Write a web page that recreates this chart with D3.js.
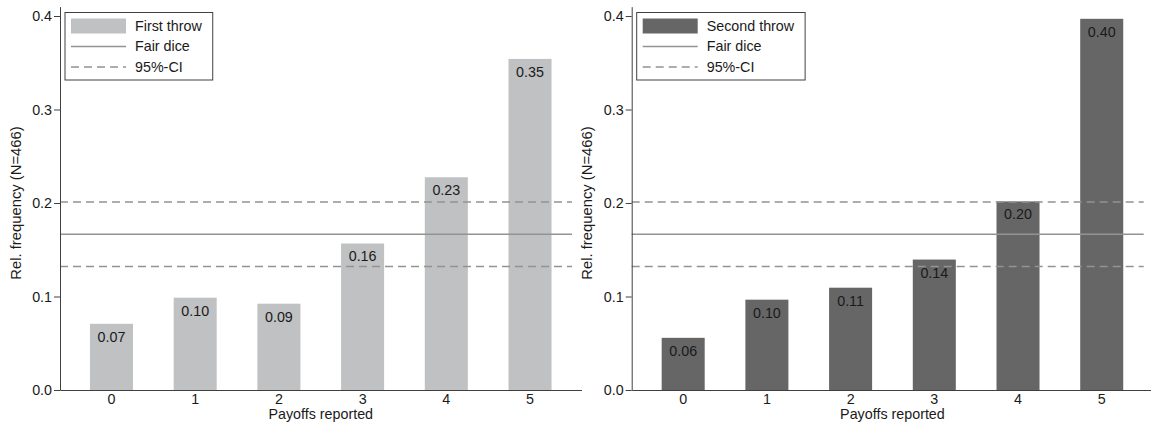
<!DOCTYPE html>
<html>
<head>
<meta charset="utf-8">
<script src="https://cdn.jsdelivr.net/npm/d3@7"></script>
<style>
  body { margin: 0; background: #fff; }
  svg text { font-family: "Liberation Sans", Arial, sans-serif; fill: #1a1a1a; }
</style>
</head>
<body>
<div id="viz"></div>
<script>
// values
var payoffs = [0, 1, 2, 3, 4, 5];
var firstThrow = [0.0708, 0.0987, 0.0923, 0.1567, 0.2275, 0.3541];
var secondThrow = [0.0558, 0.0966, 0.1094, 0.1395, 0.2017, 0.3970];
var fairDice = 0.1667;
var ciBounds = [0.1322, 0.2012];
var yTicks = [0, 0.1, 0.2, 0.3, 0.4];

var width = 1151, height = 428;
var fontSize = 14.3;

var svg = d3.select("#viz").append("svg")
  .attr("width", width)
  .attr("height", height);

var y = d3.scaleLinear().domain([0, 0.41]).range([390, 6.65]);

var x = d3.scaleBand()
  .domain(payoffs)
  .range([60, 581.5])
  .paddingInner(0.486)
  .paddingOuter(0.358);

// scratch text to measure legend labels
function textWidth(str) {
  var t = svg.append("text").attr("font-size", fontSize).text(str);
  var w = t.node().getComputedTextLength();
  t.remove();
  return w;
}

function drawPanel(offset, values, color, name) {
  var g = svg.append("g").attr("transform", "translate(" + offset + ",0)");

  g.selectAll("rect.bar")
    .data(values)
    .enter().append("rect")
    .attr("class", "bar")
    .attr("x", function(d, i){ return x(payoffs[i]); })
    .attr("width", x.bandwidth())
    .attr("y", function(d){ return y(d); })
    .attr("height", function(d){ return y(0) - y(d); })
    .attr("fill", color);

  var x0 = x.range()[0], x1 = x.range()[1] - 9.5;

  // fair dice + confidence band
  g.append("line")
    .attr("x1", x0).attr("x2", x1)
    .attr("y1", y(fairDice)).attr("y2", y(fairDice))
    .attr("stroke", "#939393").attr("stroke-width", 1.5);

  g.selectAll("line.ci")
    .data(ciBounds)
    .enter().append("line")
    .attr("class", "ci")
    .attr("x1", x0).attr("x2", x1)
    .attr("y1", function(d){ return y(d); })
    .attr("y2", function(d){ return y(d); })
    .attr("stroke", "#939393").attr("stroke-width", 1.5)
    .attr("stroke-dasharray", "8,5");

  g.selectAll("text.val")
    .data(values)
    .enter().append("text")
    .attr("class", "val")
    .attr("x", function(d, i){ return x(payoffs[i]) + x.bandwidth() / 2; })
    .attr("y", function(d){ return y(d) + 18; })
    .attr("text-anchor", "middle")
    .attr("font-size", fontSize)
    .text(function(d){ return d3.format(".2f")(d); });

  // axes
  var yAxis = g.append("g")
    .attr("transform", "translate(" + x0 + ",0)")
    .call(d3.axisLeft(y).tickValues(yTicks).tickFormat(d3.format(".1f"))
      .tickSize(6).tickSizeOuter(0).tickPadding(2));

  var xAxis = g.append("g")
    .attr("transform", "translate(0," + y(0) + ")")
    .call(d3.axisBottom(x).tickSize(0).tickSizeOuter(0).tickPadding(4));

  [yAxis, xAxis].forEach(function(a){
    a.selectAll("path, line").attr("stroke", "#404040");
    a.selectAll("text").attr("font-size", fontSize).attr("fill", "#1a1a1a")
      .style("font-family", "'Liberation Sans', Arial, sans-serif");
  });

  g.append("text")
    .attr("x", (x.range()[0] + x.range()[1]) / 2)
    .attr("y", 419)
    .attr("text-anchor", "middle")
    .attr("font-size", fontSize)
    .text("Payoffs reported");

  g.append("text")
    .attr("transform", "translate(20.5," + (y(0) + y(0.4)) / 2 + ") rotate(-90)")
    .attr("text-anchor", "middle")
    .attr("font-size", 14.8)
    .text("Rel. frequency (N=466)");

  // legend
  var lx = x0 + 5, ly = 12.5;
  var labels = [name, "Fair dice", "95%-CI"];
  var textX = x0 + 75;
  var boxW = textX + textWidth(name) + 11 - lx;
  var leg = g.append("g");
  leg.append("rect")
    .attr("x", lx).attr("y", ly)
    .attr("width", boxW).attr("height", 67.5)
    .attr("fill", "#fff").attr("stroke", "#404040").attr("stroke-width", 1);

  leg.append("rect")
    .attr("x", x0 + 11).attr("y", 18.5)
    .attr("width", 55).attr("height", 15)
    .attr("fill", color);
  leg.append("line")
    .attr("x1", x0 + 11).attr("x2", x0 + 66)
    .attr("y1", 46.5).attr("y2", 46.5)
    .attr("stroke", "#939393").attr("stroke-width", 1.5);
  leg.append("line")
    .attr("x1", x0 + 11).attr("x2", x0 + 66)
    .attr("y1", 67).attr("y2", 67)
    .attr("stroke", "#939393").attr("stroke-width", 1.5)
    .attr("stroke-dasharray", "8,5");

  leg.selectAll("text")
    .data(labels)
    .enter().append("text")
    .attr("x", textX)
    .attr("y", function(d, i){ return 30.5 + i * 20.5; })
    .attr("font-size", fontSize)
    .text(function(d){ return d; });
}

drawPanel(0, firstThrow, "#c0c1c3", "First throw");
drawPanel(571.7, secondThrow, "#666667", "Second throw");
</script>
</body>
</html>
